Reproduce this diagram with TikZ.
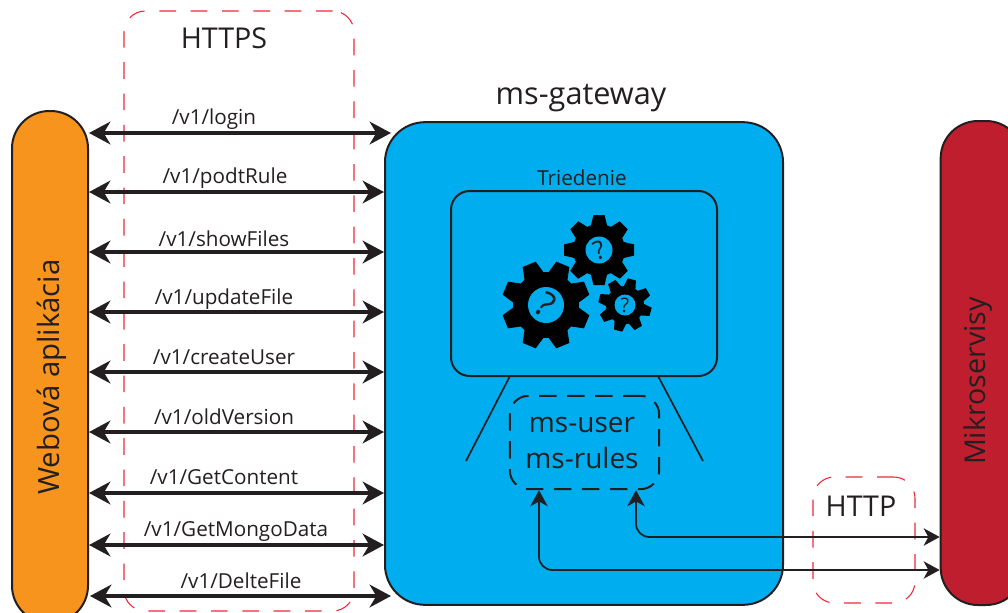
\documentclass[tikz,border=0pt]{standalone}
\usepackage{fontspec}
\setmainfont{Open Sans}
\usetikzlibrary{arrows.meta}
\definecolor{inkblack}{HTML}{231F20}
\definecolor{weborange}{HTML}{F7941D}
\definecolor{gateblue}{HTML}{00AEEF}
\definecolor{microred}{HTML}{BE1E2D}
\definecolor{zonered}{HTML}{ED2939}
\tikzset{
	panel/.style={draw=inkblack,line width=1.5pt,inner sep=0pt},
	zone/.style={draw=zonered,line width=0.8pt,dash pattern=on 12.5pt off 11pt,rounded corners=16pt,inner sep=0pt},
	route/.style={inkblack,line width=3pt,{Stealth[length=16pt,width=17pt,inset=5pt]}-{Stealth[length=16pt,width=17pt,inset=5pt]}},
	link/.style={inkblack,line width=1.3pt,rounded corners=10pt,{Stealth[length=12pt,width=13pt,inset=3.5pt]}-{Stealth[length=12pt,width=13pt,inset=3.5pt]}},
	lbl/.style={text=inkblack,inner sep=0pt,font=\fontsize{15.5}{18}\selectfont},
	title/.style={text=inkblack,inner sep=0pt,font=\fontsize{21.5}{25}\selectfont},
}
\newcommand{\gearcog}[6]{
	\fill[black] (#1,#2) circle ({#3*0.75pt});
	\foreach \a in {0,45,...,315}
		\fill[black,shift={(#1,#2)},rotate=\a+#5] ({-0.24*#4},{-#3+3}) -- ({-0.16*#4},-#4) -- ({0.16*#4},-#4) -- ({0.24*#4},{-#3+3}) -- cycle;
	\fill[gateblue] (#1,#2) circle ({#6*0.75pt});
}
\begin{document}
\begin{tikzpicture}[x=0.75pt,y=0.75pt,yscale=-1,xscale=1]
	\useasboundingbox (0,0) rectangle (1008,612);
	% zones
	\node (httpszone) [zone,minimum width=172.5pt,minimum height=450pt] at (239,311) {};
	\node (httpzone) [zone,minimum width=76.5pt,minimum height=94.5pt] at (864,540) {};
	\node (httpstext) [title] at (224,38) {HTTPS};
	\node (httptext) [title] at (861,506) {HTTP};
	% main blocks
	\node (webapp) [panel,fill=weborange,rounded corners=28pt,minimum width=57pt,minimum height=384pt] at (50,367) {};
	\node (gateway) [panel,fill=gateblue,rounded corners=30pt,minimum width=298.5pt,minimum height=362pt] at (584,363.5) {};
	\node (micro) [panel,fill=microred,rounded corners=28pt,minimum width=62pt,minimum height=363pt] at (982,363) {};
	\node (webtext) [lbl,rotate=90,font=\fontsize{22}{26}\selectfont] at (52,377) {Webová aplikácia};
	\node (microtext) [lbl,rotate=90,font=\fontsize{21.5}{25}\selectfont] at (978,381) {Mikroservisy};
	\node (gatetext) [title,font=\fontsize{23}{27}\selectfont] at (581,98) {ms-gateway};
	% screen
	\node (screen) [panel,rounded corners=14pt,minimum width=199.5pt,minimum height=138.75pt] at (584,283.5) {};
	\node (sorttext) [lbl] at (582,178) {Triedenie};
	\gearcog{546}{305}{33}{44}{22.5}{18}
	\gearcog{599}{250}{26}{35}{0}{13.5}
	\gearcog{625}{305}{19}{26.5}{-30}{10.5}
	\node (askbig) [text=inkblack,inner sep=0pt,rotate=-35,font=\fontsize{26}{30}\selectfont] at (546,305) {?};
	\node (askmid) [text=inkblack,inner sep=0pt,rotate=18,font=\fontsize{19}{22}\selectfont] at (599,250) {?};
	\node (asksmall) [text=inkblack,inner sep=0pt,font=\fontsize{15}{18}\selectfont] at (625,305) {?};
	\node (msbox) [panel,fill=none,dash pattern=on 13pt off 8pt,rounded corners=14pt,minimum width=112pt,minimum height=70pt] at (584.5,442.5) {};
	\node (mstext) [text=inkblack,inner sep=0pt,align=center,font=\fontsize{21}{27}\selectfont] at (582,443) {ms-user\\ms-rules};
	\coordinate (legleft) at (510,376);
	\coordinate (legright) at (658,376);
	\draw [inkblack,line width=1.3pt] (legleft) -- (466,461);
	\draw [inkblack,line width=1.3pt] (legright) -- (703,461);
	% routes
	\foreach \x/\y/\t in {214/119/login,225/178/podtRule,224/239/showFiles,224/299/updateFile,224/357/createUser,224/417/oldVersion,224/477/GetContent,236/531/GetMongoData,241/581/DelteFile}
		\node [lbl] at (\x,\y) {/v1/\t};
	\draw [route] (webapp.east |- 0,133) -- (391,133);
	\draw [route] (webapp.east |- 0,192) -- (gateway.west |- 0,192);
	\draw [route] (webapp.east |- 0,252) -- (gateway.west |- 0,252);
	\draw [route] (webapp.east |- 0,312) -- (gateway.west |- 0,312);
	\draw [route] (webapp.east |- 0,372) -- (gateway.west |- 0,372);
	\draw [route] (webapp.east |- 0,432) -- (gateway.west |- 0,432);
	\draw [route] (webapp.east |- 0,493) -- (gateway.west |- 0,493);
	\draw [route] (webapp.east |- 0,545) -- (gateway.west |- 0,545);
	\draw [route] (90,596) -- (391,596);
	% microservice links
	\draw [link] (msbox.south -| 636,0) |- (micro.west |- 0,537);
	\draw [link] (msbox.south -| 539,0) |- (micro.west |- 0,570);
\end{tikzpicture}
\end{document}
